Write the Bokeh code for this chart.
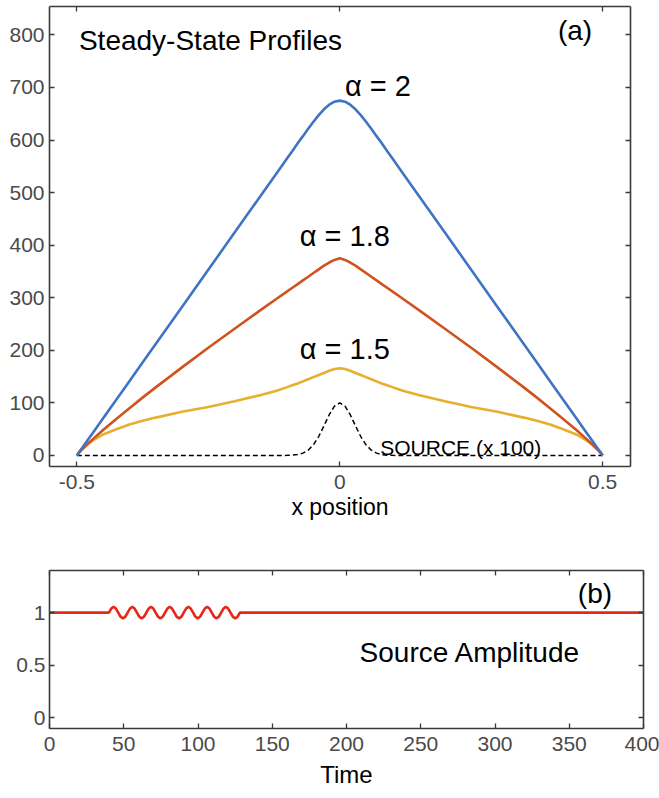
from bokeh.plotting import figure
from bokeh.models import LinearAxis, FixedTicker, Range1d
from bokeh.layouts import column
from bokeh.core.properties import value
from bokeh.embed import file_html
from bokeh.resources import INLINE

FONT = "Liberation Sans"

# ---------------- (a) steady-state profiles ----------------
x_pos = [-0.5, -0.495, -0.49, -0.48, -0.47, -0.45, -0.425, -0.4, -0.375, -0.35,
         -0.3, -0.25, -0.2, -0.15, -0.12, -0.1, -0.09, -0.08, -0.07, -0.06,
         -0.05, -0.04, -0.03, -0.02, -0.01, 0.0, 0.01, 0.02, 0.03, 0.04,
         0.05, 0.06, 0.07, 0.08, 0.09, 0.1, 0.12, 0.15, 0.2, 0.25,
         0.3, 0.35, 0.375, 0.4, 0.425, 0.45, 0.47, 0.48, 0.49, 0.495, 0.5]

profile_alpha_2 = [0, 7.1, 14.1, 28.3, 42.4, 70.7, 106.0, 141.3, 176.6, 212.0,
                   282.6, 353.3, 423.9, 494.6, 536.9, 565.2, 579.3, 593.8, 607.4, 621.3,
                   634.7, 647.3, 658.4, 667.2, 673.0, 675.0, 673.0, 667.2, 658.4, 647.3,
                   634.7, 621.3, 607.4, 593.8, 579.3, 565.2, 536.9, 494.6, 423.9, 353.3,
                   282.6, 212.0, 176.6, 141.3, 106.0, 70.7, 42.4, 28.3, 14.1, 7.1, 0]

profile_alpha_18 = [0, 6.1, 11.4, 21.3, 30.6, 48.3, 69.5, 90.0, 110.0, 129.5,
                    167.6, 204.8, 241.1, 276.9, 298.0, 312.1, 319.1, 326.0, 333.0, 340.0,
                    347.0, 354.0, 361.0, 367.0, 372.0, 375.0, 372.0, 367.0, 361.0, 354.0,
                    347.0, 340.0, 333.0, 326.0, 319.1, 312.1, 298.0, 276.9, 241.1, 204.8,
                    167.6, 129.5, 110.0, 90.0, 69.5, 48.3, 30.6, 21.3, 11.4, 6.1, 0]

profile_alpha_15 = [0, 8, 13, 21, 28, 40, 50, 59, 66, 72,
                    83, 92, 103, 115, 123, 130, 133.5, 137, 141, 145,
                    149, 153, 157, 161, 164.5, 166, 164.5, 161, 157, 153,
                    149, 145, 141, 137, 133.5, 130, 123, 115, 103, 92,
                    83, 72, 66, 59, 50, 40, 28, 21, 13, 8, 0]

source_x100 = [0, 0, 0, 0, 0, 0, 0, 0, 0, 0,
               0, 0, 0, 0, 0, 0.2, 0.6, 1.7, 4.4, 10.1,
               20.3, 36.0, 56.3, 77.5, 93.8, 100.0, 93.8, 77.5, 56.3, 36.0,
               20.3, 10.1, 4.4, 1.7, 0.6, 0.2, 0, 0, 0, 0,
               0, 0, 0, 0, 0, 0, 0, 0, 0, 0, 0]

xa_ticks = [-0.5, 0.0, 0.5]
xa_labels = ["-0.5", "0", "0.5"]
ya_ticks = [0, 100, 200, 300, 400, 500, 600, 700, 800]
ya_labels = [str(t) for t in ya_ticks]

# ---------------- (b) source amplitude ----------------
time = [0, 40.0, 41.58, 43.15, 44.73, 46.3, 47.88, 49.45, 51.03, 52.6, 54.18,
        55.75, 57.33, 58.9, 60.48, 62.05, 63.63, 65.2, 66.78, 68.35, 69.93,
        71.5, 73.08, 74.65, 76.23, 77.8, 79.38, 80.95, 82.53, 84.1, 85.68,
        87.25, 88.83, 90.4, 91.98, 93.55, 95.13, 96.7, 98.28, 99.85, 101.43,
        103.0, 104.58, 106.15, 107.73, 109.3, 110.88, 112.45, 114.03, 115.6, 117.18,
        118.75, 120.33, 121.9, 123.48, 125.05, 126.63, 128.2, 400]

amplitude = [1, 1, 1.039, 1.055, 1.039, 1, 0.961, 0.945, 0.961,
             1, 1.039, 1.055, 1.039, 1, 0.961, 0.945, 0.961,
             1, 1.039, 1.055, 1.039, 1, 0.961, 0.945, 0.961,
             1, 1.039, 1.055, 1.039, 1, 0.961, 0.945, 0.961,
             1, 1.039, 1.055, 1.039, 1, 0.961, 0.945, 0.961,
             1, 1.039, 1.055, 1.039, 1, 0.961, 0.945, 0.961,
             1, 1.039, 1.055, 1.039, 1, 0.961, 0.945, 0.961,
             1, 1]

xb_ticks = [0, 50, 100, 150, 200, 250, 300, 350, 400]
xb_labels = [str(t) for t in xb_ticks]
yb_ticks = [0, 0.5, 1]
yb_labels = ["0", "0.5", "1"]

AXIS_COLOR = "#3a3a3a"
LABEL_COLOR = "#4a4a4a"


def style_axis(ax, ticks, labels, size="21px", standoff=6):
    ax.ticker = FixedTicker(ticks=ticks)
    ax.major_label_overrides = {t: l for t, l in zip(ticks, labels)}
    ax.major_tick_in = 5
    ax.major_tick_out = 0
    ax.minor_tick_line_color = None
    ax.major_tick_line_color = AXIS_COLOR
    ax.major_tick_line_width = 1.3
    ax.axis_line_color = AXIS_COLOR
    ax.axis_line_width = 1.6
    ax.major_label_text_font = FONT
    ax.major_label_text_font_size = size
    ax.major_label_text_color = LABEL_COLOR
    ax.major_label_standoff = standoff


def mirror_axis(p, side, ticks):
    ax = LinearAxis()
    style_axis(ax, ticks, ["" for _ in ticks], size="0px", standoff=0)
    p.add_layout(ax, side)


# ---- top panel ----
p1 = figure(frame_width=581, frame_height=460,
            x_range=Range1d(-0.552, 0.553), y_range=Range1d(-21, 854),
            output_backend="svg", toolbar_location=None,
            min_border_left=49, min_border_right=29,
            min_border_top=6, min_border_bottom=64)
p1.grid.visible = False
p1.outline_line_color = None
p1.background_fill_color = "white"
p1.border_fill_color = "white"

style_axis(p1.xaxis[0], xa_ticks, xa_labels, standoff=8)
style_axis(p1.yaxis[0], ya_ticks, ya_labels, standoff=5)
p1.xaxis[0].axis_label = "x position"
p1.xaxis[0].axis_label_text_font = FONT
p1.xaxis[0].axis_label_text_font_size = "23px"
p1.xaxis[0].axis_label_text_font_style = "normal"
p1.xaxis[0].axis_label_text_color = "black"
p1.xaxis[0].axis_label_standoff = 2
mirror_axis(p1, "above", xa_ticks)
mirror_axis(p1, "right", ya_ticks)

p1.line(x_pos, source_x100, line_color="black", line_width=1.5, line_dash="5 3")
p1.line(x_pos, profile_alpha_15, line_color="#E6B02E", line_width=2.6)
p1.line(x_pos, profile_alpha_18, line_color="#D0531F", line_width=2.6)
p1.line(x_pos, profile_alpha_2, line_color="#3F73C4", line_width=2.6)

ann = dict(text_font=value(FONT), text_color="black", text_baseline="alphabetic")
p1.text(x=[-0.496], y=[789], text=["Steady-State Profiles"], text_font_size="28px", **ann)
p1.text(x=[0.415], y=[808], text=["(a)"], text_font_size="28px", **ann)
p1.text(x=[0.010], y=[703], text=["α = 2"], text_font_size="29px", **ann)
p1.text(x=[-0.076], y=[418], text=["α = 1.8"], text_font_size="29px", **ann)
p1.text(x=[-0.076], y=[203], text=["α = 1.5"], text_font_size="29px", **ann)
p1.text(x=[0.077], y=[16], text=["SOURCE (x 100)"], text_font_size="21px", **ann)

# ---- bottom panel ----
p2 = figure(frame_width=594, frame_height=158,
            x_range=Range1d(0, 400), y_range=Range1d(-0.1, 1.4),
            output_backend="svg", toolbar_location=None,
            min_border_left=47, min_border_right=18,
            min_border_top=40, min_border_bottom=70)
p2.grid.visible = False
p2.outline_line_color = None
p2.background_fill_color = "white"
p2.border_fill_color = "white"

style_axis(p2.xaxis[0], xb_ticks, xb_labels, standoff=8)
style_axis(p2.yaxis[0], yb_ticks, yb_labels, standoff=4)
p2.xaxis[0].axis_label = "Time"
p2.xaxis[0].axis_label_text_font = FONT
p2.xaxis[0].axis_label_text_font_size = "24px"
p2.xaxis[0].axis_label_text_font_style = "normal"
p2.xaxis[0].axis_label_text_color = "black"
p2.xaxis[0].axis_label_standoff = 7
mirror_axis(p2, "above", xb_ticks)
mirror_axis(p2, "right", yb_ticks)

p2.line(time, amplitude, line_color="#E5281A", line_width=2.6)
p2.text(x=[355.8], y=[1.178], text=["(b)"], text_font_size="28px", **ann)
p2.text(x=[208.8], y=[0.622], text=["Source Amplitude"], text_font_size="28px", **ann)

layout = column(p1, p2, spacing=0)
open("out.html", "w").write(file_html(layout, INLINE))
